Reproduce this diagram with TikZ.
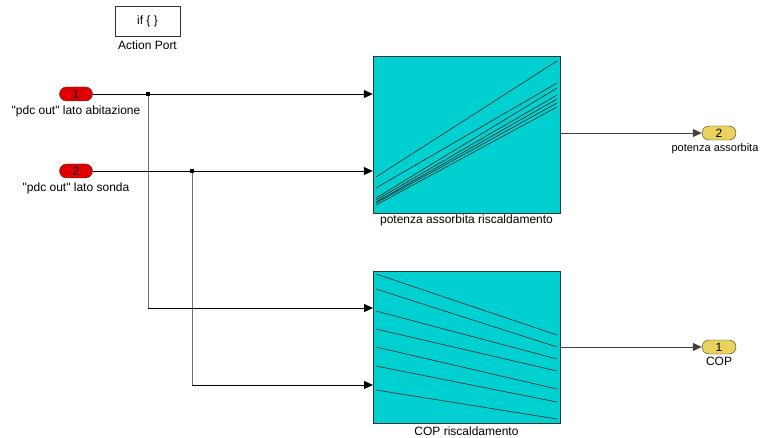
\documentclass[tikz,border=0pt]{standalone}
\usepackage{fontspec}
\setmainfont{Liberation Sans}[Ligatures=TeXOff]
\usepackage{tikz}
\usetikzlibrary{arrows.meta,positioning}
\definecolor{lutcyan}{HTML}{00D0D0}
\definecolor{inred}{HTML}{E00000}
\definecolor{outyellow}{HTML}{E8D45C}
\definecolor{wiregray}{HTML}{707070}

\begin{document}
\begin{tikzpicture}[x=1pt,y=-1pt,
  font=\fontsize{12}{14}\selectfont,
  inport/.style={draw=black!80,fill=inred,rounded corners=7pt,minimum width=33pt,minimum height=14pt,inner sep=0pt},
  outport/.style={draw=black!80,fill=outyellow,rounded corners=7pt,minimum width=34pt,minimum height=14pt,inner sep=0pt},
  lut/.style={draw=black!80,fill=lutcyan,minimum width=187pt,inner sep=0pt},
  lbl/.style={inner sep=1pt},
  sig/.style={-{Triangle[length=9pt,width=8pt]},line width=0.8pt,black},
  vwire/.style={line width=0.8pt,wiregray},
  curve/.style={line width=0.6pt,black!85}
]
\useasboundingbox (0,0) rectangle (762,438);

% action port
\node[draw=black!80,minimum width=65pt,minimum height=30pt,inner sep=0pt] (act) at (147.5,21) {if \{ \}};
\node[lbl,below=3.5pt of act] (actlbl) {Action Port};

% inports
\node[inport] (in1) at (76,94) {1};
\node[lbl,below=3pt of in1] (in1lbl) {"pdc out" lato abitazione};
\node[inport] (in2) at (76,171) {2};
\node[lbl,below=3pt of in2] (in2lbl) {"pdc out" lato sonda};

% lookup blocks
\node[lut,minimum height=157pt] (pot) at (466.5,134.5) {};
\node[lbl,below=0pt of pot] (potlbl) {potenza assorbita riscaldamento};
\node[lut,minimum height=152pt] (cop) at (466.5,347) {};
\node[lbl,below=2.5pt of cop] (coplbl) {COP riscaldamento};

% outports
\node[outport] (out2) at (719,133) {2};
\node[lbl,below=2pt of out2,xshift=-4pt,font=\fontsize{11}{13}\selectfont] (out2lbl) {potenza assorbita};
\node[outport] (out1) at (719,347) {1};
\node[lbl,below=2pt of out1] (out1lbl) {COP};

% curves inside the blocks
\foreach \ya/\yb in {177/61,188/83,198/88,200/95,202/99,203/103,205/107}
  \draw[curve] (376,\ya) -- (557,\yb);
\foreach \ya/\yb in {274/335,289/347,311/359,329/371,347/389,366/402,390/419}
  \draw[curve] (376,\ya) -- (557,\yb);

% ports and branch points
\coordinate (j1) at (148,94);
\coordinate (j2) at (192,171);
\coordinate (cop-in1) at (373,308);
\coordinate (cop-in2) at (373,385);

% signals
\draw[vwire] (j1) -- (j1 |- cop-in1);
\draw[vwire] (j2) -- (j2 |- cop-in2);
\draw[sig] (in1.east) -- (in1 -| pot.west);
\draw[sig] (in2.east) -- (in2 -| pot.west);
\draw[sig] (j1 |- cop-in1) -- (cop-in1);
\draw[sig] (j2 |- cop-in2) -- (cop-in2);
\draw[sig,black!75] (pot.east |- out2) -- (out2.west);
\draw[sig,black!75] (cop.east) -- (out1.west);
\fill (j1) +(-1.6,-1.6) rectangle +(1.6,1.6);
\fill (j2) +(-1.6,-1.6) rectangle +(1.6,1.6);
\end{tikzpicture}
\end{document}
